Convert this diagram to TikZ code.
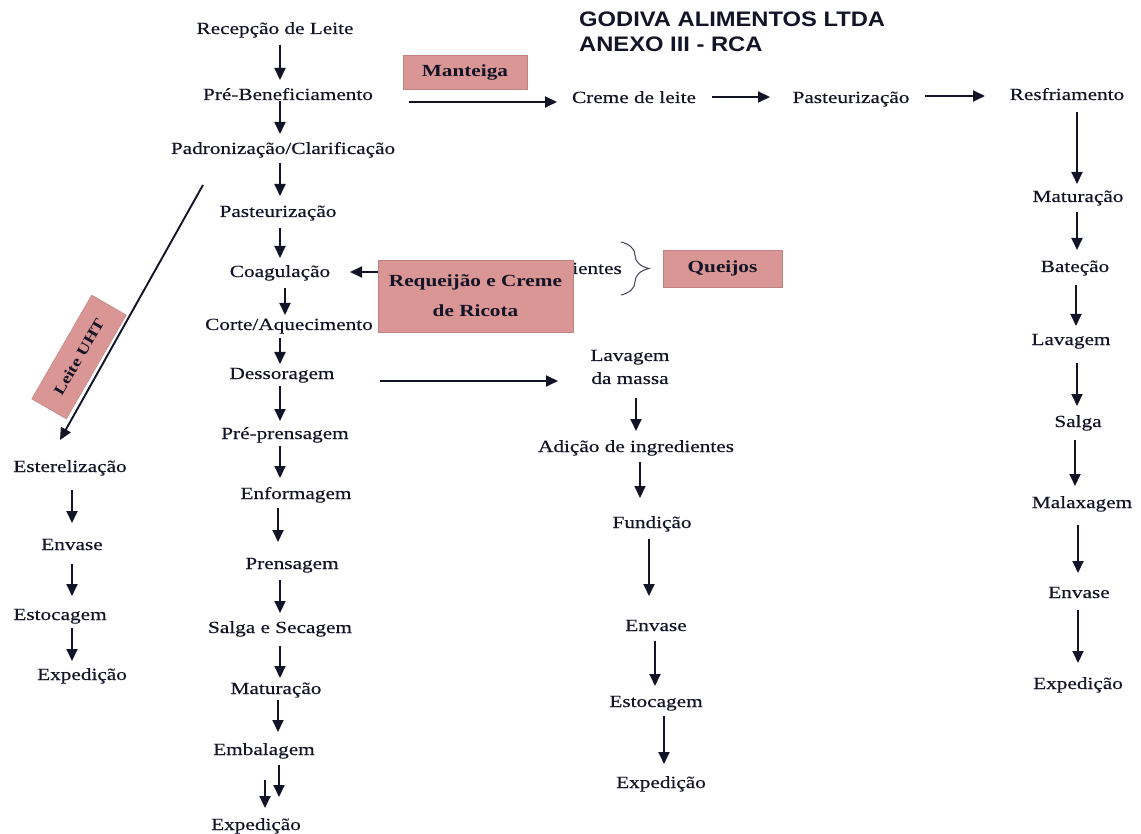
\documentclass[tikz,border=0pt]{standalone}
\usepackage{fontspec}
\setmainfont{Liberation Serif}[FakeStretch=1.25, UprightFeatures={FakeBold=0.4}]
\newfontfamily\titlefont{Liberation Sans}[FakeStretch=1.13]
\usetikzlibrary{arrows.meta,decorations.pathreplacing}
\definecolor{pinkbox}{RGB}{217,150,148}
\definecolor{ink}{RGB}{20,20,40}
\tikzset{
 lbl/.style={inner sep=0pt, text height=12pt, text depth=4pt, font=\fontsize{17}{20}\selectfont, text=ink},
 lbltwo/.style={inner sep=0pt, align=center, font=\fontsize{17}{23}\selectfont, text=ink},
 pbox/.style={fill=pinkbox, draw=pinkbox!88!black, line width=0.4pt, inner sep=0pt, font=\fontsize{17}{30}\selectfont\bfseries, text=ink, align=center},
 arr/.style={draw=ink, line width=1.9pt, -{Triangle[length=12pt,width=11pt]}},
 ttl/.style={inner sep=0pt, anchor=base west, font=\titlefont\bfseries\fontsize{21}{24}\selectfont, text=ink},
 bracestyle/.style={draw=ink!80, line width=1pt, decorate, decoration={brace, amplitude=28pt}},
}
\begin{document}
\begin{tikzpicture}[x=1pt,y=-1pt]
\fill[white] (0,0) rectangle (1141,834);
\useasboundingbox (0,0) rectangle (1141,834);

% title
\node[ttl] (t1) at (579,27) {GODIVA ALIMENTOS LTDA};
\node[ttl] (t2) at (579,52) {ANEXO III - RCA};

% main column
\node[lbl] (rec)   at (275,30)  {Recepção de Leite};
\node[lbl] (preb)  at (288,96)  {Pré-Beneficiamento};
\node[lbl] (padr)  at (283,150) {Padronização/Clarificação};
\node[lbl] (past)  at (278,213) {Pasteurização};
\node[lbl] (coag)  at (280,273) {Coagulação};
\node[lbl] (corte) at (289,326) {Corte/Aquecimento};
\node[lbl] (dess)  at (282,375) {Dessoragem};
\node[lbl] (prep)  at (285,435) {Pré-prensagem};
\node[lbl] (enf)   at (296,495) {Enformagem};
\node[lbl] (prens) at (292,565) {Prensagem};
\node[lbl] (salga) at (280,629) {Salga e Secagem};
\node[lbl] (mat)   at (276,690) {Maturação};
\node[lbl] (emb)   at (264,751) {Embalagem};
\node[lbl] (exp)   at (256,826) {Expedição};

% UHT column
\node[lbl] (est)   at (70,468)  {Esterelização};
\node[lbl] (env1)  at (72,546)  {Envase};
\node[lbl] (esto1) at (60,616)  {Estocagem};
\node[lbl] (exp1)  at (82,676)  {Expedição};

% butter line
\node[lbl] (creme) at (634,99)  {Creme de leite};
\node[lbl] (past2) at (851,99)  {Pasteurização};
\node[lbl] (resf)  at (1067,96) {Resfriamento};
\node[lbl] (mat2)  at (1078,198) {Maturação};
\node[lbl] (bat)   at (1075,268) {Bateção};
\node[lbl] (lav2)  at (1071,341) {Lavagem};
\node[lbl] (salga2) at (1078,423) {Salga};
\node[lbl] (malax) at (1082,504) {Malaxagem};
\node[lbl] (env3)  at (1079,594) {Envase};
\node[lbl] (exp3)  at (1078,685) {Expedição};

% requeijao line
\node[lbltwo] (lav) at (630,367) {Lavagem\\da massa};
\node[lbl] (add)   at (636,448) {Adição de ingredientes};
\node[lbl] (fund)  at (652,524) {Fundição};
\node[lbl] (env2)  at (656,627) {Envase};
\node[lbl] (esto2) at (656,703) {Estocagem};
\node[lbl] (exp2)  at (661,784) {Expedição};

\node[lbl] (ient)  at (597,270) {ientes};

% arrow hidden under the box
\draw[arr] ([shift={(0,2)}]ient.west) -- ([shift={(70,-1)}]coag.center);

% pink boxes
\node[pbox, minimum width=124pt, minimum height=34pt] (mant) at (465,72) {Manteiga};
\node[pbox, minimum width=195pt, minimum height=72pt] (req) at (475.5,296) {Requeijão e Creme\\de Ricota};
\node[pbox, minimum width=119pt, minimum height=37pt] (queijos) at (722.5,268.5) {Queijos};
\node[pbox, minimum width=120pt, minimum height=40pt, rotate=60, font=\fontsize{15}{18}\selectfont\bfseries] (uht) at (79,357) {Leite UHT};

% brace
\coordinate (bt) at (621,242);
\coordinate (bb) at (621,295);
\draw[bracestyle] (bt) -- (bb);

% main column arrows
\draw[arr] ([shift={(5,15)}]rec.center) -- ([shift={(-8,-16)}]preb.center);
\draw[arr] ([shift={(-8,5)}]preb.center) -- ([shift={(-3,-16)}]padr.center);
\draw[arr] ([shift={(-3,13)}]padr.center) -- ([shift={(2,-17)}]past.center);
\draw[arr] ([shift={(2,15)}]past.center) -- ([shift={(0,-15)}]coag.center);
\draw[arr] ([shift={(5,15)}]coag.center) -- ([shift={(-4,-11)}]corte.center);
\draw[arr] ([shift={(-9,12)}]corte.center) -- ([shift={(-2,-11)}]dess.center);
\draw[arr] ([shift={(-2,11)}]dess.center) -- ([shift={(-5,-14)}]prep.center);
\draw[arr] ([shift={(-5,11)}]prep.center) -- ([shift={(-16,-17)}]enf.center);
\draw[arr] ([shift={(-18,13)}]enf.center) -- ([shift={(-14,-23)}]prens.center);
\draw[arr] ([shift={(-12,15)}]prens.center) -- ([shift={(0,-16)}]salga.center);
\draw[arr] ([shift={(0,17)}]salga.center) -- ([shift={(4,-12)}]mat.center);
\draw[arr] ([shift={(2,10)}]mat.center) -- ([shift={(14,-19)}]emb.center);
\draw[arr] ([shift={(15,14)}]emb.center) -- ([shift={(23,-29)}]exp.center);
\draw[arr] ([shift={(1,29)}]emb.center) -- ([shift={(9,-18)}]exp.center);

% UHT arrows
\draw[arr] ([shift={(-80,35)}]padr.center) -- ([shift={(-10,-28)}]est.center);
\draw[arr] ([shift={(2,22)}]est.center) -- ([shift={(0,-23)}]env1.center);
\draw[arr] ([shift={(0,18)}]env1.center) -- ([shift={(12,-20)}]esto1.center);
\draw[arr] ([shift={(12,12)}]esto1.center) -- ([shift={(-10,-15)}]exp1.center);

% butter arrows
\draw[arr] ([shift={(121,6)}]preb.center) -- ([shift={(-77,3)}]creme.center);
\draw[arr] ([shift={(78,-2)}]creme.center) -- ([shift={(-81,-2)}]past2.center);
\draw[arr] ([shift={(74,-3)}]past2.center) -- ([shift={(-82,0)}]resf.center);
\draw[arr] ([shift={(10,16)}]resf.center) -- ([shift={(-1,-14)}]mat2.center);
\draw[arr] ([shift={(-1,14)}]mat2.center) -- ([shift={(2,-18)}]bat.center);
\draw[arr] ([shift={(1,17)}]bat.center) -- ([shift={(5,-15)}]lav2.center);
\draw[arr] ([shift={(6,22)}]lav2.center) -- ([shift={(-1,-17)}]salga2.center);
\draw[arr] ([shift={(-3,17)}]salga2.center) -- ([shift={(-7,-18)}]malax.center);
\draw[arr] ([shift={(-4,21)}]malax.center) -- ([shift={(-1,-21)}]env3.center);
\draw[arr] ([shift={(-1,16)}]env3.center) -- ([shift={(0,-22)}]exp3.center);

% requeijao arrows
\draw[arr] ([shift={(98,6)}]dess.center) -- ([shift={(-72,14)}]lav.center);
\draw[arr] ([shift={(6,31)}]lav.center) -- ([shift={(0,-17)}]add.center);
\draw[arr] ([shift={(4,14)}]add.center) -- ([shift={(-12,-26)}]fund.center);
\draw[arr] ([shift={(-3,15)}]fund.center) -- ([shift={(-7,-31)}]env2.center);
\draw[arr] ([shift={(-1,14)}]env2.center) -- ([shift={(-1,-17)}]esto2.center);
\draw[arr] ([shift={(8,13)}]esto2.center) -- ([shift={(3,-20)}]exp2.center);
\end{tikzpicture}
\end{document}
